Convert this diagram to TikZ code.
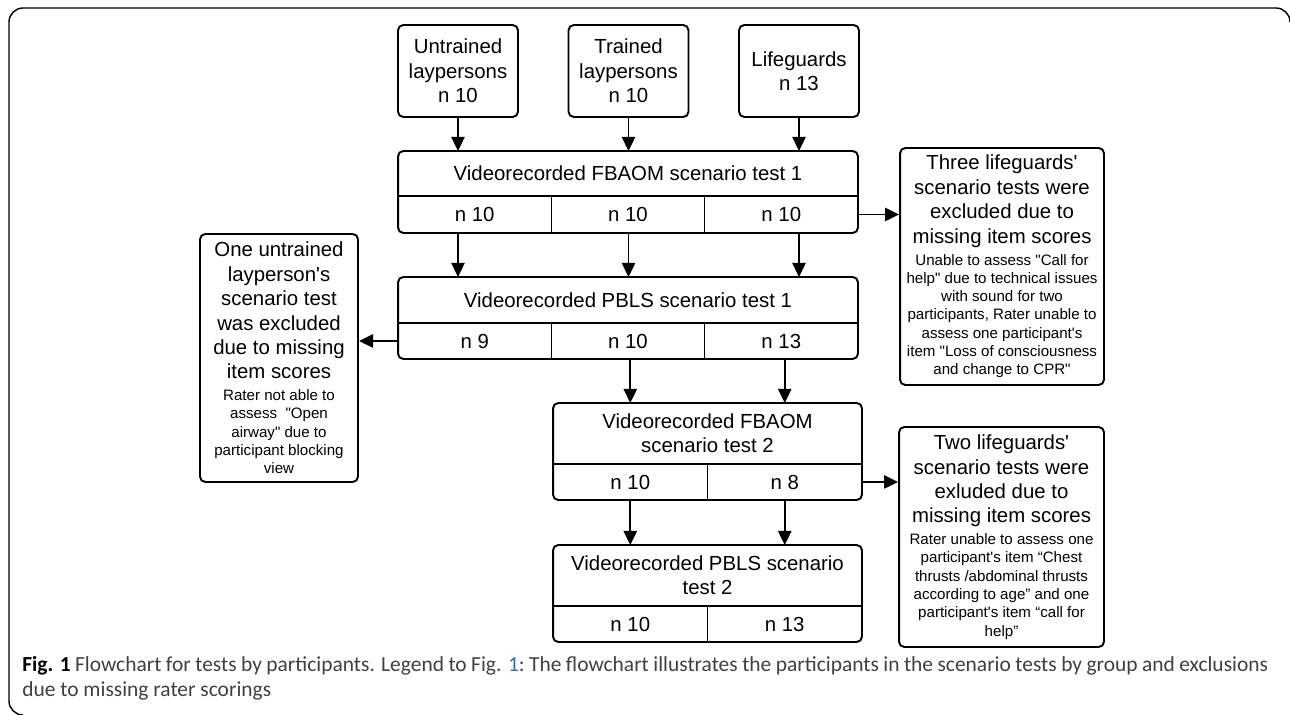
\documentclass[tikz,border=0pt]{standalone}
\usepackage{fontspec}
\setmainfont{Liberation Sans}[Ligatures=TeXOff]
\newfontfamily\capfont{Carlito}
\usepackage{xcolor}
\usepackage{tikz}
\usetikzlibrary{arrows.meta, positioning, fit, calc}
\definecolor{capblue}{RGB}{40,110,200}
\definecolor{capgray}{RGB}{64,64,64}
\newcommand{\lgtxt}{\fontsize{11.6}{13.9}\selectfont}
\newcommand{\smtxt}{\fontsize{8.6}{10.4}\selectfont}
\tikzset{
  srcbox/.style={rectangle, draw=black, line width=1.1pt, rounded corners=3pt,
                 minimum width=2.4cm, minimum height=1.84cm, align=center,
                 inner sep=0pt, font=\lgtxt},
  hdr/.style={rectangle, inner sep=0pt, outer sep=0pt, align=center, font=\lgtxt},
  cell/.style={rectangle, inner sep=0pt, outer sep=0pt, font=\lgtxt},
  cell3/.style={cell, minimum width=3.0667cm},
  cell2/.style={cell, minimum width=3.09cm},
  tablebox/.style={rectangle, draw=black, line width=1.1pt, rounded corners=3pt,
                   inner sep=0pt},
  divider/.style={draw=black, line width=0.9pt},
  excl/.style={rectangle, draw=black, line width=1.1pt, rounded corners=3pt,
               align=flush center, inner xsep=0.02cm, inner ysep=0pt, font=\lgtxt},
  arrow/.style={-{Triangle[length=8pt,width=7.5pt]}, line width=1.1pt, draw=black},
}

\begin{document}
\begin{tikzpicture}[x=0.02cm, y=-0.02cm]
  \useasboundingbox (0,0) rectangle (1290,715);
  \draw[line width=0.8pt, rounded corners=8pt]
    (1290,22) -- (1290,8) -- (9,8) -- (9,715) -- (22,715);

  % --- Nodes ---
  \node[srcbox] (untr)  at (458,71)   {Untrained\\laypersons\\n 10};
  \node[srcbox] (trai)  at (628.5,71) {Trained\\laypersons\\n 10};
  \node[srcbox] (lifeg) at (799,71)   {Lifeguards\\n 13};

  % FBAOM test 1
  \node[hdr, minimum width=9.2cm, minimum height=0.9cm] (fa1) at (628,173.5)
    {Videorecorded FBAOM scenario test 1};
  \node[cell3, minimum height=0.74cm, anchor=north west] (fa1a) at (fa1.south west) {n 10};
  \node[cell3, minimum height=0.74cm, right=0pt of fa1a] (fa1b) {n 10};
  \node[cell3, minimum height=0.74cm, right=0pt of fa1b] (fa1c) {n 10};
  \node[tablebox, fit=(fa1)(fa1a)(fa1c)] (fa1box) {};
  \draw[divider] (fa1.south west) -- (fa1.south east);
  \draw[divider] (fa1a.north east) -- (fa1a.south east);
  \draw[divider] (fa1b.north east) -- (fa1b.south east);

  % PBLS test 1
  \node[hdr, minimum width=9.2cm, minimum height=0.92cm] (pb1) at (628,300)
    {Videorecorded PBLS scenario test 1};
  \node[cell3, minimum height=0.72cm, anchor=north west] (pb1a) at (pb1.south west) {n 9};
  \node[cell3, minimum height=0.72cm, right=0pt of pb1a] (pb1b) {n 10};
  \node[cell3, minimum height=0.72cm, right=0pt of pb1b] (pb1c) {n 13};
  \node[tablebox, fit=(pb1)(pb1a)(pb1c)] (pb1box) {};
  \draw[divider] (pb1.south west) -- (pb1.south east);
  \draw[divider] (pb1a.north east) -- (pb1a.south east);
  \draw[divider] (pb1b.north east) -- (pb1b.south east);

  % FBAOM test 2
  \node[hdr, minimum width=6.18cm, minimum height=1.22cm] (fa2) at (707.5,433.5)
    {Videorecorded FBAOM\\scenario test 2};
  \node[cell2, minimum height=0.72cm, anchor=north west] (fa2a) at (fa2.south west) {n 10};
  \node[cell2, minimum height=0.72cm, right=0pt of fa2a] (fa2b) {n 8};
  \node[tablebox, fit=(fa2)(fa2a)(fa2b)] (fa2box) {};
  \draw[divider] (fa2.south west) -- (fa2.south east);
  \draw[divider] (fa2a.north east) -- (fa2a.south east);

  % PBLS test 2
  \node[hdr, minimum width=6.18cm, minimum height=1.22cm] (pb2) at (707.5,575.5)
    {Videorecorded PBLS scenario\\test 2};
  \node[cell2, minimum height=0.72cm, anchor=north west] (pb2a) at (pb2.south west) {n 10};
  \node[cell2, minimum height=0.72cm, right=0pt of pb2a] (pb2b) {n 13};
  \node[tablebox, fit=(pb2)(pb2a)(pb2b)] (pb2box) {};
  \draw[divider] (pb2.south west) -- (pb2.south east);
  \draw[divider] (pb2a.north east) -- (pb2a.south east);

  % exclusions
  \node[excl, text width=3.12cm, minimum height=4.96cm] (ex0) at (279,358)
    {{\lgtxt One untrained\\layperson's\\scenario test\\was excluded\\due to missing\\item scores\par}
     \vspace{2pt}
     {\smtxt Rater not able to\\assess \ "Open\\airway" due to\\participant blocking\\view\par}};
  \node[excl, text width=4.04cm, minimum height=4.74cm] (ex1) at (1002,266.5)
    {{\lgtxt Three lifeguards'\\scenario tests were\\excluded due to\\missing item scores\par}
     \vspace{2pt}
     {\smtxt Unable to assess "Call for\\help" due to technical issues\\with sound for two\\participants, Rater unable to\\assess one participant's\\item "Loss of consciousness\\and change to CPR"\par}};
  \node[excl, text width=4.06cm, minimum height=4.4cm] (ex2) at (1001.5,537)
    {{\lgtxt Two lifeguards'\\scenario tests were\\exluded due to\\missing item scores\par}
     \vspace{2pt}
     {\smtxt Rater unable to assess one\\participant's item “Chest\\thrusts /abdominal thrusts\\according to age” and one\\participant's item “call for\\help”\par}};

  % caption
  \node[anchor=north west, inner sep=0pt, align=left, text=capgray,
        font=\capfont\fontsize{12.2}{14.2}\selectfont] (cap) at (22,656)
    {\makebox[24.92cm][s]{\textcolor{black}{\bfseries\mbox{Fig. 1}} Flowchart for tests by participants. Legend to \mbox{Fig. \textcolor{capblue}{1}:} The flowchart illustrates the participants in the scenario tests by group and exclusions}\\
     due to missing rater scorings};

  % --- Edges ---
  \draw[arrow] (untr.south)  -- (untr |- fa1.north);
  \draw[arrow] (trai.south)  -- (trai |- fa1.north);
  \draw[arrow] (lifeg.south) -- (lifeg |- fa1.north);
  \draw[arrow] (untr |- fa1a.south)  -- (untr |- pb1.north);
  \draw[arrow] (trai |- fa1b.south)  -- (trai |- pb1.north);
  \draw[arrow] (lifeg |- fa1c.south) -- (lifeg |- pb1.north);
  \draw[arrow] (fa2a |- pb1b.south) -- (fa2a |- fa2.north);
  \draw[arrow] (fa2b |- pb1c.south) -- (fa2b |- fa2.north);
  \draw[arrow] (fa2a.south) -- (fa2a |- pb2.north);
  \draw[arrow] (fa2b.south) -- (fa2b |- pb2.north);
  \draw[arrow] (fa1c.east) -- (fa1c.east -| ex1.west);
  \draw[arrow] (pb1a.west) -- (pb1a.west -| ex0.east);
  \draw[arrow] (fa2b.east) -- (fa2b.east -| ex2.west);

\end{tikzpicture}
\end{document}
